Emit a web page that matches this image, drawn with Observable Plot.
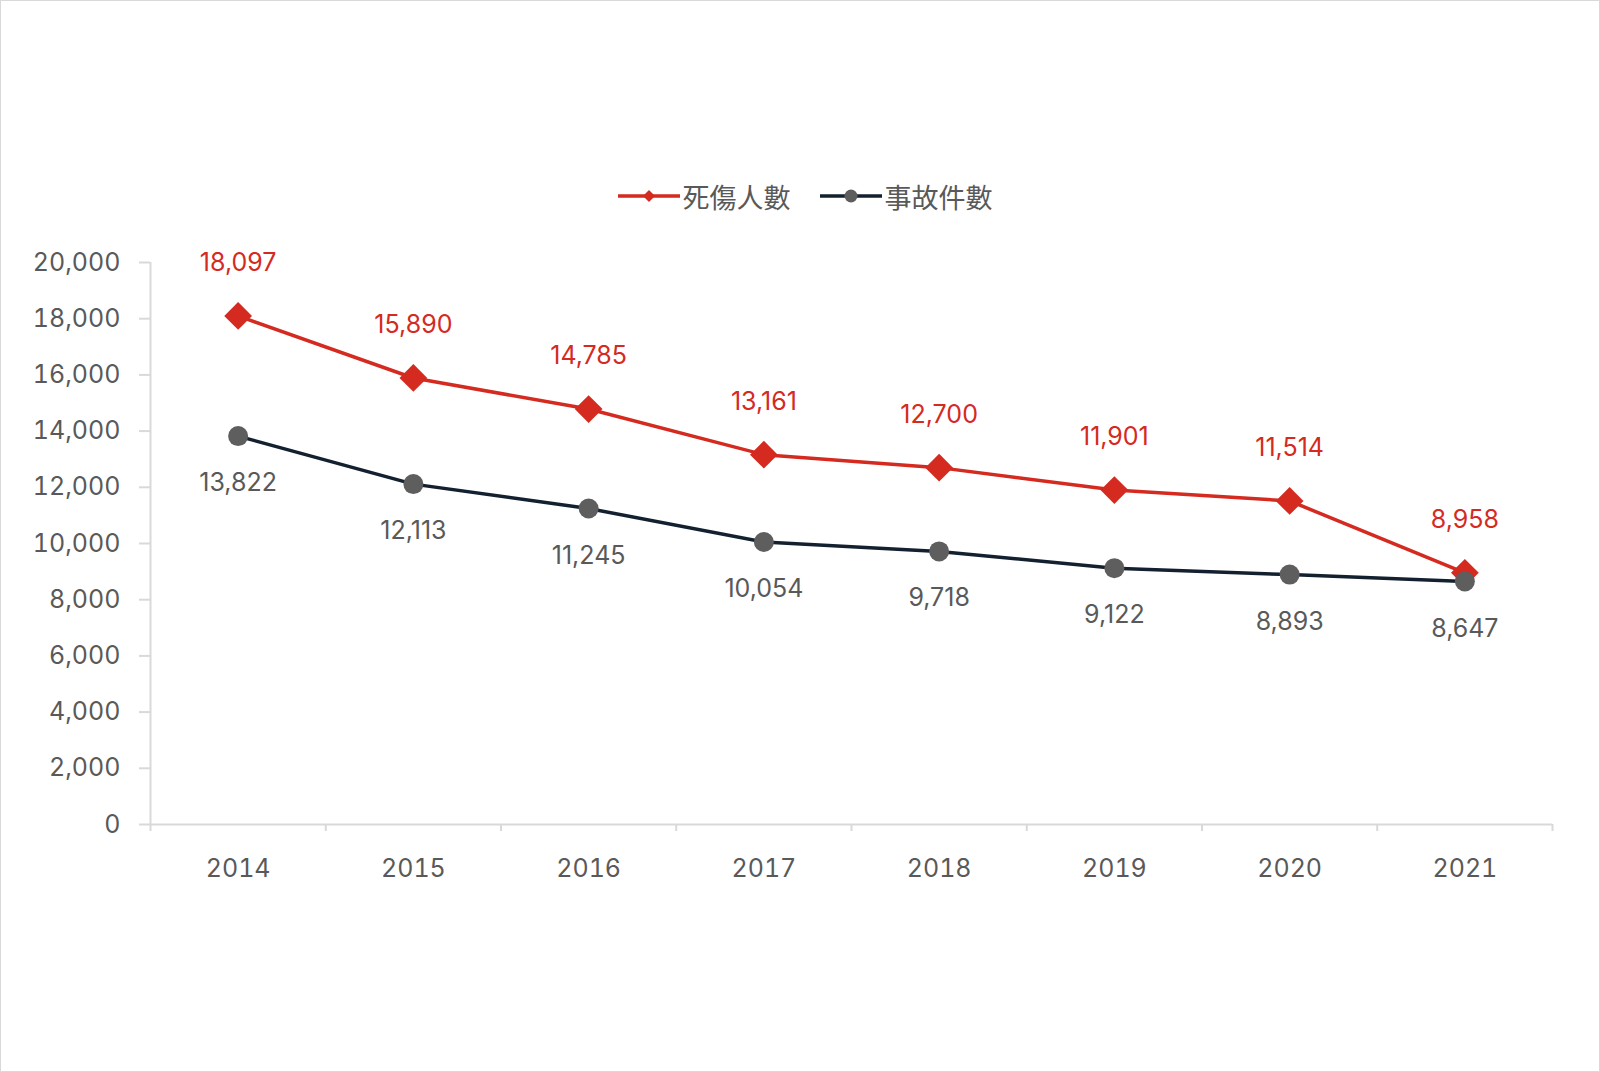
<!DOCTYPE html>
<html>
<head>
<meta charset="utf-8">
<script src="https://cdn.jsdelivr.net/npm/d3@7"></script>
<script src="https://cdn.jsdelivr.net/npm/@observablehq/plot@0.6"></script>
<style>
  html, body { margin: 0; padding: 0; background: #fff; }
  #wrap { position: relative; width: 1600px; height: 1072px; box-shadow: inset 0 0 0 1px #d9d9d9; overflow: hidden;
          font-family: "Noto Sans CJK TC", "Noto Sans", sans-serif; }
  #legend { height: 230px; position: relative; }
  #legend .row { position: absolute; top: 178px; left: 5px; width: 1600px; height: 36px; display: flex; justify-content: center; align-items: center; gap: 29px; }
  #legend .item { display: flex; align-items: center; gap: 3px; font-size: 27px; color: #595959; }
  #chart svg { display: block; }
</style>
</head>
<body>
<div id="wrap">
  <div id="legend"><div class="row" id="legrow"></div></div>
  <div id="chart"></div>
</div>
<script>
const years = [2014, 2015, 2016, 2017, 2018, 2019, 2020, 2021];
const xLabels = ["2014", "2015", "2016", "2017", "2018", "2019", "2020", "2021"];
const casualties = [18097, 15890, 14785, 13161, 12700, 11901, 11514, 8958];
const accidents = [13822, 12113, 11245, 10054, 9718, 9122, 8893, 8647];
const yTicks = [0, 2000, 4000, 6000, 8000, 10000, 12000, 14000, 16000, 18000, 20000];
const seriesNames = ["死傷人數", "事故件數"];

const RED = "#d42a1f";
const DARK = "#13202f";
const GRAY_DOT = "#5e5e5e";
const TEXT = "#595959";
const AXIS = "#d9d9d9";
const FONT = "Inter, 'Noto Sans CJK TC', 'Noto Sans', sans-serif";

const rows = years.map((y, i) => ({year: y, casualties: casualties[i], accidents: accidents[i]}));
const boundaries = years.map(y => y - 0.5).concat([years[years.length - 1] + 0.5]);
const fmt = d3.format(",");

const plot = Plot.plot({
  width: 1600,
  height: 842,
  marginTop: 32,
  marginBottom: 248,
  marginLeft: 150,
  marginRight: 48,
  style: {fontFamily: FONT, fontSize: "25px", background: "transparent"},
  x: {type: "linear", domain: [boundaries[0], boundaries[boundaries.length - 1]]},
  y: {domain: [0, 20000]},
  marks: [
    Plot.ruleY([0], {stroke: AXIS, strokeWidth: 2}),
    Plot.ruleX([boundaries[0]], {y1: 0, y2: 20000, stroke: AXIS, strokeWidth: 2}),
    Plot.axisY({ticks: yTicks, tickSize: 11, tickFormat: () => "", stroke: AXIS, strokeWidth: 2, label: null}),
    Plot.axisY({ticks: yTicks, tickSize: 0, tickPadding: 30, tickFormat: fmt, fill: TEXT, fontSize: 25, label: null}),
    Plot.axisX({ticks: boundaries, tickSize: 7, tickFormat: () => "", stroke: AXIS, strokeWidth: 2, label: null}),
    Plot.axisX({ticks: years, tickSize: 0, tickPadding: 35, tickFormat: (d, i) => xLabels[i], fill: TEXT, fontSize: 25, label: null}),
    Plot.line(rows, {x: "year", y: "casualties", stroke: RED, strokeWidth: 3.5}),
    Plot.dot(rows, {x: "year", y: "casualties", symbol: "diamond2", r: 12.5, fill: RED, stroke: "none"}),
    Plot.line(rows, {x: "year", y: "accidents", stroke: DARK, strokeWidth: 3.5}),
    Plot.dot(rows, {x: "year", y: "accidents", symbol: "circle", r: 10, fill: GRAY_DOT, stroke: "none"}),
    Plot.text(rows, {x: "year", y: "casualties", text: d => fmt(d.casualties), dy: -53, fill: RED, fontSize: 25}),
    Plot.text(rows, {x: "year", y: "accidents", text: d => fmt(d.accidents), dy: 47, fill: TEXT, fontSize: 25})
  ]
});
document.getElementById("chart").appendChild(plot);

// Legend
const legrow = document.getElementById("legrow");
function legendItem(name, color, markerColor, shape) {
  const item = document.createElement("div");
  item.className = "item";
  const ns = "http://www.w3.org/2000/svg";
  const svg = document.createElementNS(ns, "svg");
  svg.setAttribute("width", 62);
  svg.setAttribute("height", 20);
  const line = document.createElementNS(ns, "line");
  line.setAttribute("x1", 0); line.setAttribute("x2", 62);
  line.setAttribute("y1", 10); line.setAttribute("y2", 10);
  line.setAttribute("stroke", color); line.setAttribute("stroke-width", 3.5);
  svg.appendChild(line);
  if (shape === "diamond") {
    const p = document.createElementNS(ns, "path");
    p.setAttribute("d", "M31,4L37,10L31,16L25,10Z");
    p.setAttribute("fill", markerColor);
    svg.appendChild(p);
  } else {
    const c = document.createElementNS(ns, "circle");
    c.setAttribute("cx", 31); c.setAttribute("cy", 10); c.setAttribute("r", 6.5);
    c.setAttribute("fill", markerColor);
    svg.appendChild(c);
  }
  item.appendChild(svg);
  const span = document.createElement("span");
  span.textContent = name;
  item.appendChild(span);
  legrow.appendChild(item);
}
legendItem(seriesNames[0], RED, RED, "diamond");
legendItem(seriesNames[1], DARK, GRAY_DOT, "circle");
</script>
</body>
</html>
